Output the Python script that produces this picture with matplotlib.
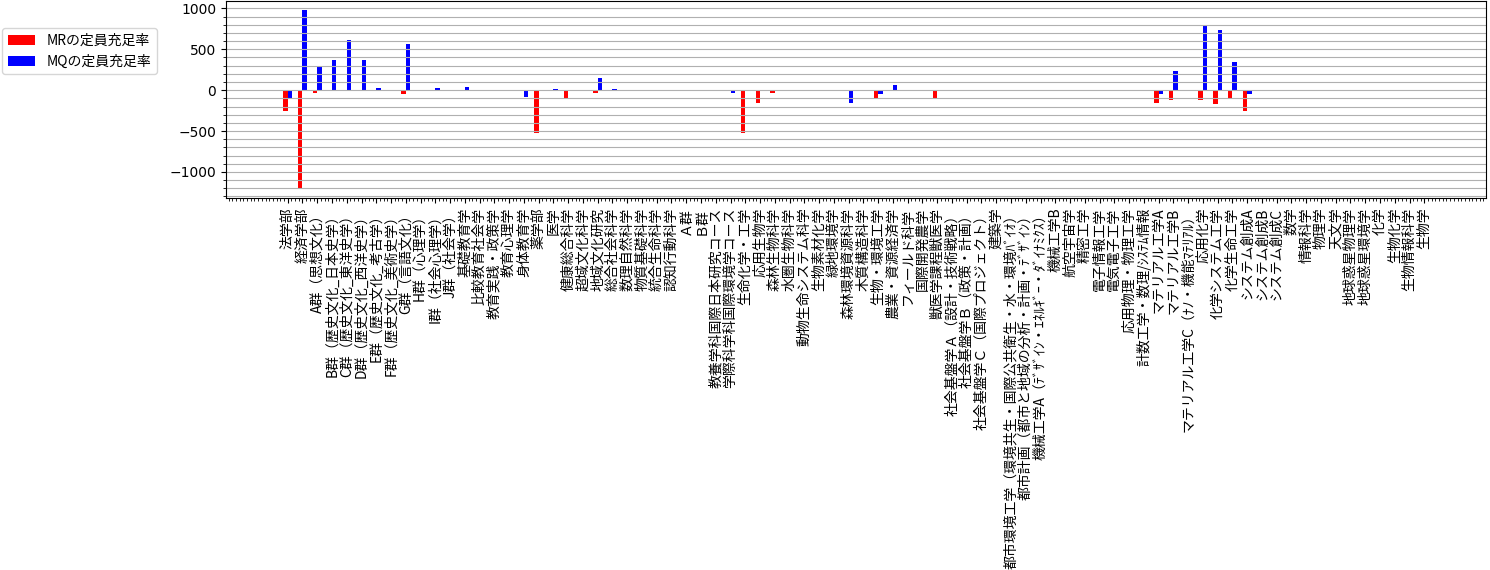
import matplotlib
matplotlib.use("Agg")
import matplotlib.pyplot as plt
import numpy as np
from matplotlib.ticker import AutoMinorLocator

JP = ["Noto Sans CJK JP", "DejaVu Sans"]

departments = [
    "法学部", "経済学部",
    "A群（思想文化）", "B群（歴史文化_日本史学）", "C群（歴史文化_東洋史学）",
    "D群（歴史文化_西洋史学）", "E群（歴史文化_考古学）", "F群（歴史文化_美術史学）",
    "G群（言語文化）", "H群（心理学）", "I群（社会心理学）", "J群（社会学）",
    "基礎教育学", "比較教育社会学", "教育実践・政策学", "教育心理学", "身体教育学",
    "薬学部", "医学", "健康総合科学",
    "超域文化科学", "地域文化研究", "総合社会科学", "数理自然科学", "物質基礎科学",
    "統合生命科学", "認知行動科学", "Ａ群", "Ｂ群",
    "教養学科国際日本研究コース", "学際科学科国際環境学コース",
    "生命化学・工学", "応用生物学", "森林生物科学", "水圏生物科学",
    "動物生命システム科学", "生物素材化学", "緑地環境学", "森林環境資源科学",
    "木質構造科学", "生物・環境工学", "農業・資源経済学", "フィールド科学",
    "国際開発農学", "獣医学課程獣医学",
    "社会基盤学Ａ（設計・技術戦略）", "社会基盤学Ｂ（政策・計画）",
    "社会基盤学Ｃ（国際プロジェクト）", "建築学",
    "都市環境工学（環境共生・国際公共衛生・水・環境ﾊﾞｲｵ）",
    "都市計画（都市と地域の分析・計画・ﾃﾞｻﾞｲﾝ）",
    "機械工学A（ﾃﾞｻﾞｲﾝ・ｴﾈﾙｷﾞｰ・ﾀﾞｲﾅﾐｸｽ）", "機械工学B",
    "航空宇宙学", "精密工学", "電子情報工学", "電気電子工学",
    "応用物理・物理工学", "計数工学・数理/ｼｽﾃﾑ情報",
    "マテリアル工学A", "マテリアル工学B", "マテリアル工学C（ﾅﾉ・機能ﾏﾃﾘｱﾙ）",
    "応用化学", "化学システム工学", "化学生命工学",
    "システム創成A", "システム創成B", "システム創成C",
    "数学", "情報科学", "物理学", "天文学", "地球惑星物理学", "地球惑星環境学",
    "化学", "生物化学", "生物情報科学", "生物学",
]

# MR / MQ fill-rate differences (0 where no bar is drawn)
mr_rate = [
    -252, -1209, -33, 0, 0, 0, 0, -16, -45, 0, 0, 0,
    0, 0, 0, 0, 0, -529, 0, -94,
    0, -33, 0, 0, 0, 0, 0, 0, 0,
    0, 0, -521, -155, -33, 0, 0, 0, 0, 0, 0, -94, 0, 0, 0, -94,
    0, 0, 0, 0, 0, 0, 0, 0, 0, 0, 0, 0, 0, 0,
    -155, -118, 0, -118, -167, -94, -252, 0, 0,
    0, 0, 0, 0, 0, 0, 0, 0, 0, 0,
]
mq_rate = [
    -94, 981, 289, 370, 615, 370, 28, -16, 566, 0, 28, 0,
    41, 0, 0, 0, -81, -16, 16, -16,
    0, 151, 16, 0, 0, 0, 0, 0, 0,
    -12, -33, 0, 0, -16, 0, 0, 0, 0, -155, 0, -45, 65, 0, 0, 0,
    0, 0, 0, 0, 0, 0, 0, 0, 0, 0, -12, 0, 0, 0,
    -45, 236, 0, 790, 737, 346, -45, 0, 0,
    0, 0, 0, 0, 0, 0, 0, 0, 0, 0,
]

fig = plt.figure(figsize=(14.9, 5.7), dpi=100)
ax = fig.add_axes([226 / 1490, 1 - 198 / 570, 1260 / 1490, 197 / 570])

x = np.arange(len(departments))
w = 0.3
ax.bar(x - w, mr_rate, width=w, align="edge", color="red", label="MRの定員充足率")
ax.bar(x, mq_rate, width=w, align="edge", color="blue", label="MQの定員充足率")

ax.set_xticks(x)
ax.set_xticklabels(departments, rotation=90, fontfamily=JP)
ax.minorticks_on()
ax.xaxis.set_minor_locator(AutoMinorLocator(4))
ax.grid(axis="y", which="both")

fig.legend(loc="upper left", bbox_to_anchor=(2 / 1490, 1 - 28 / 570),
           borderaxespad=0, prop={"family": JP})

fig.savefig("out.png", dpi=100)
